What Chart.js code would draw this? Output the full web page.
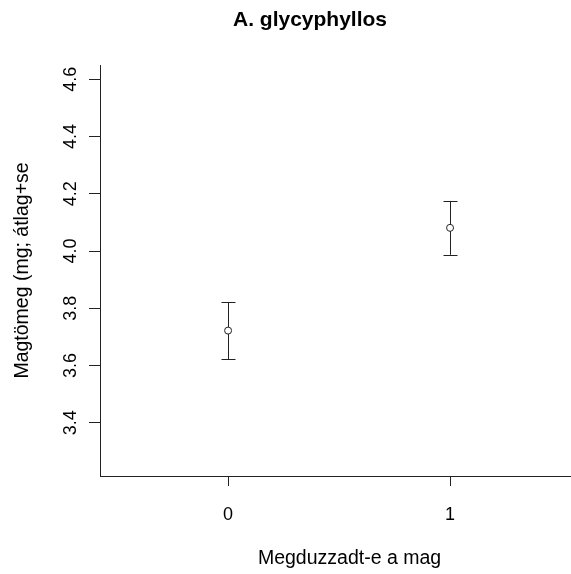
<!DOCTYPE html>
<html>
<head>
<meta charset="utf-8">
<script src="https://cdn.jsdelivr.net/npm/chart.js@4"></script>
<style>
  html, body { margin: 0; padding: 0; background: #fff; overflow: hidden; }
  canvas { display: block; }
</style>
</head>
<body>
<canvas id="seedChart" width="604" height="574"></canvas>
<script>
// seed mass by whether the seed was swollen
const groups = [0, 1];
const means = [3.722, 4.081];
const se = [0.100, 0.094];
const yTicks = [3.4, 3.6, 3.8, 4.0, 4.2, 4.4, 4.6];
const xTicks = [0, 1];

const titleText = "A. glycyphyllos";
const xTitle = "Megduzzadt-e a mag";
const yTitle = "Magtömeg (mg; átlag+se";

const font = "'Liberation Sans', Arial, sans-serif";
const ink = "#222";

// error bars drawn under the points, from the scales
const errorBars = {
    id: "errorBars",
    beforeDatasetsDraw(chart) {
        const ctx = chart.ctx;
        const xs = chart.scales.x, ys = chart.scales.y;
        ctx.save();
        ctx.strokeStyle = ink;
        ctx.lineWidth = 1;
        groups.forEach((g, i) => {
            const x = Math.round(xs.getPixelForValue(g)) + 0.5;
            const top = ys.getPixelForValue(means[i] + se[i]);
            const bot = ys.getPixelForValue(means[i] - se[i]);
            ctx.beginPath();
            ctx.moveTo(x, top);
            ctx.lineTo(x, bot);
            ctx.moveTo(x - 7, Math.round(top) + 0.5);
            ctx.lineTo(x + 7, Math.round(top) + 0.5);
            ctx.moveTo(x - 7, Math.round(bot) + 0.5);
            ctx.lineTo(x + 7, Math.round(bot) + 0.5);
            ctx.stroke();
        });
        ctx.restore();
    }
};

const mainTitle = {
    id: "mainTitle",
    afterDraw(chart) {
        const ctx = chart.ctx;
        ctx.save();
        ctx.fillStyle = "#000";
        ctx.font = "bold 21px " + font;
        ctx.textAlign = "center";
        ctx.textBaseline = "middle";
        ctx.fillText(titleText, 310, 20);
        ctx.restore();
    }
};

function drawChart() {
    const ctx = document.getElementById("seedChart").getContext("2d");
    new Chart(ctx, {
        type: "scatter",
        data: {
            datasets: [{
                data: groups.map((g, i) => ({x: g, y: means[i]})),
                pointRadius: 3.5,
                pointBorderWidth: 1,
                pointBorderColor: ink,
                pointBackgroundColor: "#fff"
            }]
        },
        plugins: [errorBars, mainTitle],
        options: {
            responsive: false,
            animation: false,
            layout: {padding: {top: 65, left: 0, right: 0, bottom: 0}},
            plugins: {legend: {display: false}, tooltip: {enabled: false}},
            scales: {
                x: {
                    type: "linear",
                    min: -0.577,
                    max: 1.671,
                    afterBuildTicks: s => { s.ticks = xTicks.map(v => ({value: v})); },
                    afterFit: s => { s.height = 98; },
                    grid: {drawOnChartArea: false, tickLength: 10, color: ink},
                    border: {color: ink, width: 1},
                    ticks: {color: "#000", font: {family: font, size: 18}, padding: 18, maxRotation: 0},
                    title: {display: true, text: xTitle, color: "#000", font: {family: font, size: 19.5}, padding: {top: 0, bottom: 4}}
                },
                y: {
                    min: 3.214,
                    max: 4.65,
                    afterBuildTicks: s => { s.ticks = yTicks.map(v => ({value: v})); },
                    afterFit: s => { s.width = 100; },
                    grid: {drawOnChartArea: false, tickLength: 11, color: ink},
                    border: {color: ink, width: 1},
                    ticks: {
                        color: "#000",
                        font: {family: font, size: 18},
                        padding: 5,
                        minRotation: 90,
                        maxRotation: 90,
                        crossAlign: "center",
                        callback: v => v.toFixed(1)
                    },
                    title: {display: true, text: yTitle, color: "#000", font: {family: font, size: 19.5}, padding: {top: 11, bottom: 0}}
                }
            }
        }
    });
}

window.onload = function() {
    drawChart();
};
</script>
</body>
</html>
